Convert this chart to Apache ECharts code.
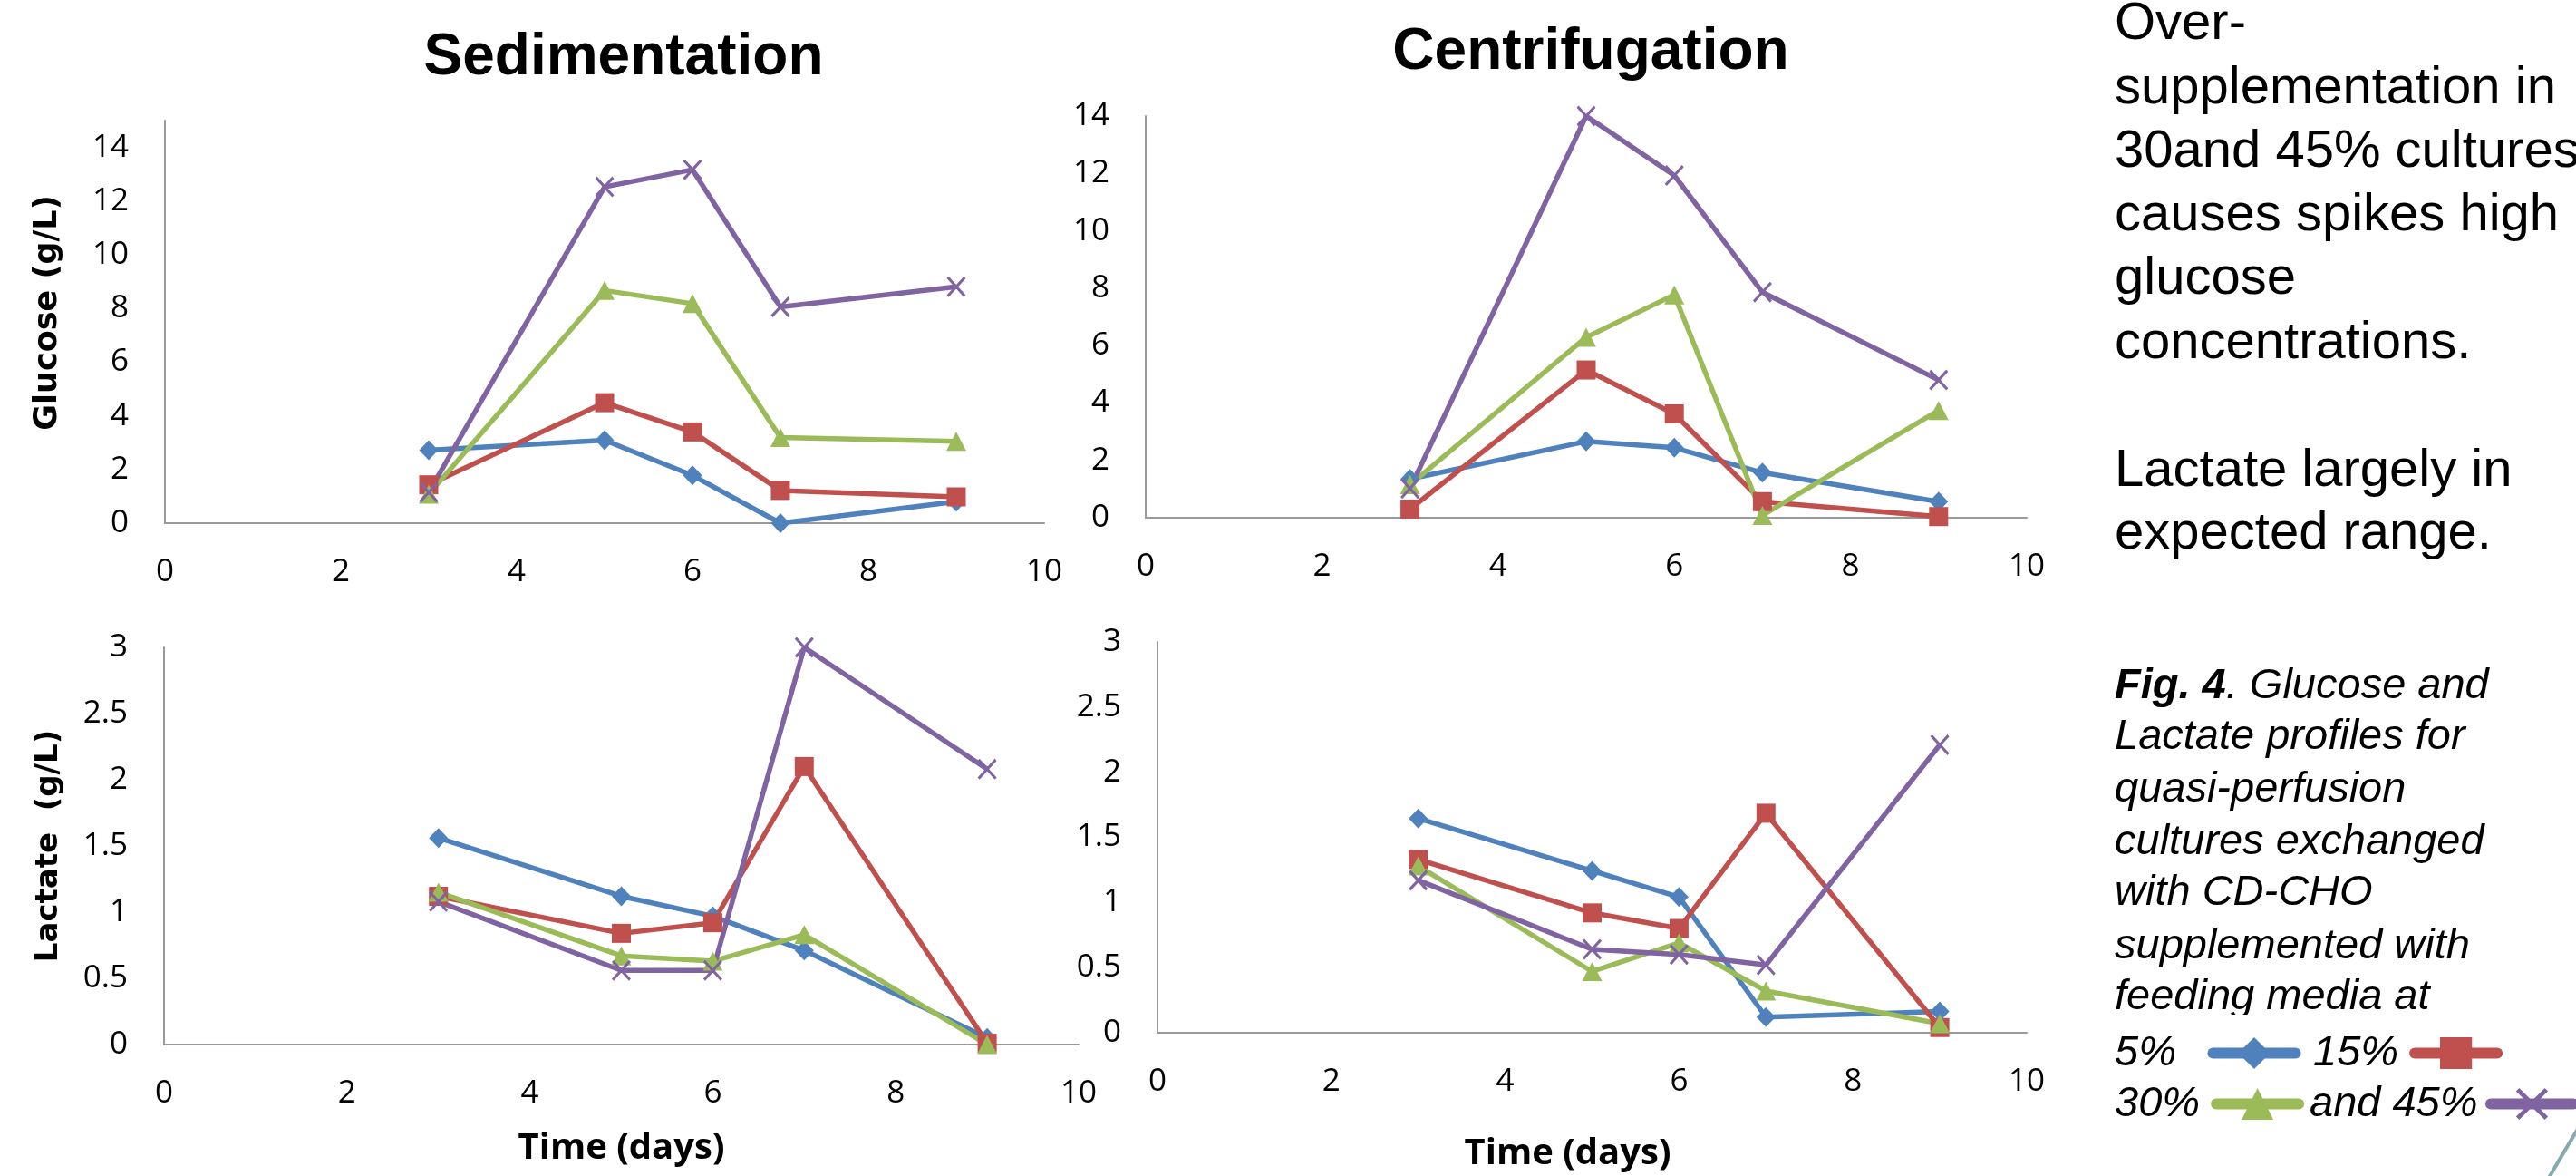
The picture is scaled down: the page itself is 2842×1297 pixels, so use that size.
<!DOCTYPE html>
<html>
<head>
<meta charset="utf-8">
<title>Glucose and Lactate profiles</title>
<script src="https://cdn.jsdelivr.net/npm/echarts/dist/echarts.min.js"></script>
<style>
  html, body { margin: 0; padding: 0; background: #fff; }
  #chart { width: 2842px; height: 1297px; }
</style>
</head>
<body>
<div id="chart"></div>
<script>
// days sampled
const days = [3, 5, 6, 7, 9];
const seriesNames = ['5%', '15%', '30%', '45%'];
const xTicks = [0, 2, 4, 6, 8, 10];

// Sedimentation - glucose (g/L)
const sedGlucose5 = [2.72, 3.09, 1.78, 0.0, 0.8];
const sedGlucose15 = [1.43, 4.49, 3.40, 1.22, 0.98];
const sedGlucose30 = [1.08, 8.67, 8.18, 3.19, 3.05];
const sedGlucose45 = [1.15, 12.53, 13.17, 8.06, 8.81];

// Centrifugation - glucose (g/L)
const cenGlucose5 = [1.35, 2.66, 2.44, 1.57, 0.56];
const cenGlucose15 = [0.30, 5.15, 3.62, 0.56, 0.04];
const cenGlucose30 = [1.15, 6.29, 7.77, 0.08, 3.74];
const cenGlucose45 = [1.02, 14.0, 11.93, 7.86, 4.80];

// Sedimentation - lactate (g/L)
const sedLactate5 = [1.56, 1.12, 0.97, 0.71, 0.05];
const sedLactate15 = [1.12, 0.84, 0.92, 2.10, 0.01];
const sedLactate30 = [1.15, 0.67, 0.63, 0.83, 0.0];
const sedLactate45 = [1.08, 0.56, 0.56, 3.0, 2.08];

// Centrifugation - lactate (g/L)
const cenLactate5 = [1.645, 1.243, 1.042, 0.12, 0.164];
const cenLactate15 = [1.33, 0.92, 0.80, 1.685, 0.04];
const cenLactate30 = [1.28, 0.47, 0.69, 0.32, 0.07];
const cenLactate45 = [1.17, 0.64, 0.60, 0.52, 2.21];

const colors = ['#4F81BD', '#C0504D', '#9BBB59', '#8064A2'];
const crossPath = 'path://M0,1L1,0L5,4L9,0L10,1L6,5L10,9L9,10L5,6L1,10L0,9L4,5Z';
const symbols = ['diamond', 'rect', 'triangle', crossPath];
const symbolSizes = [[21, 22], [21, 21], [22, 21], [21, 23]];

const panels = [
    [sedGlucose5, sedGlucose15, sedGlucose30, sedGlucose45],
    [cenGlucose5, cenGlucose15, cenGlucose30, cenGlucose45],
    [sedLactate5, sedLactate15, sedLactate30, sedLactate45],
    [cenLactate5, cenLactate15, cenLactate30, cenLactate45]
];

const tickFont = { color: '#000', fontFamily: 'Open Sans', fontSize: 35 };
const axisLineStyle = { show: true, onZero: false, lineStyle: { color: '#999', width: 2 } };

function makeXAxis(gridIndex, extra) {
    return Object.assign({
        type: 'value', gridIndex: gridIndex,
        min: xTicks[0], max: xTicks[xTicks.length - 1], interval: 2,
        axisLine: axisLineStyle,
        axisTick: { show: false },
        splitLine: { show: false },
        axisLabel: Object.assign({ margin: 37 }, tickFont)
    }, extra || {});
}

function makeYAxis(gridIndex, max, interval, extra) {
    return Object.assign({
        type: 'value', gridIndex: gridIndex,
        min: 0, max: max, interval: interval,
        axisLine: axisLineStyle,
        axisTick: { show: false },
        splitLine: { show: false },
        axisLabel: Object.assign({ margin: 40, showMaxLabel: max % interval === 0 }, tickFont)
    }, extra || {});
}

const xNameStyle = { color: '#000', fontFamily: 'Open Sans', fontWeight: 'bold', fontSize: 40 };
const yNameStyle = { color: '#000', fontFamily: 'DejaVu Sans', fontWeight: 'bold', fontSize: 35 };

const series = [];
panels.forEach((panel, g) => {
    panel.forEach((vals, k) => {
        series.push({
            type: 'line',
            name: seriesNames[k],
            xAxisIndex: g,
            yAxisIndex: g,
            data: days.map((d, i) => [d, vals[i]]),
            symbol: symbols[k],
            symbolSize: symbolSizes[k],
            lineStyle: { width: 5.5, color: colors[k] },
            itemStyle: { color: colors[k] }
        });
    });
});

// trailing no-break spaces open the gap between a label and its key
function legendItem(name, left, top, label) {
    return {
        data: [name],
        left: left, top: top,
        padding: 0,
        orient: 'horizontal',
        align: 'right',
        itemWidth: 91, itemHeight: 44,
        selectedMode: false,
        formatter: label,
        lineStyle: { width: 12, cap: 'round' },
        textStyle: { color: '#000', fontFamily: 'Liberation Sans', fontStyle: 'italic', fontSize: 47 }
    };
}

function textLine(str, x, baseline, size, style) {
    return {
        type: 'text', x: x, y: baseline - 0.35 * size, z: 10,
        style: Object.assign({
            text: str, fill: '#000', fontFamily: 'Liberation Sans', fontSize: size,
            verticalAlign: 'middle', align: 'left'
        }, style || {})
    };
}

const noteLines = [
    ['Over-', 47], ['supplementation in', 118], ['30and 45% cultures', 188],
    ['causes spikes high', 258], ['glucose', 328], ['concentrations.', 399],
    ['Lactate largely in', 540], ['expected range.', 609]
];
const captionLines = [
    ['Lactate profiles for', 829.5], ['quasi-perfusion', 887], ['cultures exchanged', 945],
    ['with CD-CHO', 1001.5], ['supplemented with', 1060.6], ['feeding media at', 1116.3]
];

const graphics = [
    { type: 'text', x: 688, y: 64, style: { text: 'Sedimentation', fill: '#000', fontFamily: 'Liberation Sans', fontWeight: 'bold', fontSize: 64, align: 'center', verticalAlign: 'middle' } },
    { type: 'text', x: 1755, y: 58, style: { text: 'Centrifugation', fill: '#000', fontFamily: 'Liberation Sans', fontWeight: 'bold', fontSize: 64, align: 'center', verticalAlign: 'middle' } }
];
noteLines.forEach(l => graphics.push(textLine(l[0], 2333, l[1], 58)));
graphics.push(textLine('{b|Fig. 4}. Glucose and', 2333, 773, 47, {
    fontStyle: 'italic',
    rich: { b: { fontWeight: 'bold', fontStyle: 'italic', fontFamily: 'Liberation Sans', fontSize: 47, fill: '#000' } }
}));
captionLines.forEach(l => graphics.push(textLine(l[0], 2333, l[1], 47, { fontStyle: 'italic' })));
// caption box clips the last line's descenders
graphics.push({ type: 'rect', z: 11, shape: { x: 2320, y: 1119, width: 300, height: 18 }, style: { fill: '#fff' } });
// slide decoration in the corner
graphics.push({ type: 'bezierCurve', z: 11, shape: { x1: 2844, y1: 1245, x2: 2812, y2: 1299, cpx1: 2830, cpy1: 1268 }, style: { stroke: '#86aaad', lineWidth: 4, fill: null } });

const option = {
    animation: false,
    backgroundColor: '#fff',
    grid: [
        { left: 182, top: 133, width: 970, height: 444 },
        { left: 1264, top: 128, width: 972, height: 443 },
        { left: 181, top: 714, width: 1009, height: 438 },
        { left: 1277, top: 708, width: 959, height: 431 }
    ],
    xAxis: [
        makeXAxis(0),
        makeXAxis(1),
        makeXAxis(2, { name: 'Time (days)', nameLocation: 'middle', nameGap: 95, nameTextStyle: xNameStyle }),
        makeXAxis(3, { name: 'Time (days)', nameLocation: 'middle', nameGap: 114, nameTextStyle: Object.assign({ padding: [0, 54, 0, 0] }, xNameStyle) })
    ],
    yAxis: [
        makeYAxis(0, 15, 2, { name: 'Glucose (g/L)', nameLocation: 'middle', nameRotate: 90, nameGap: 112, nameTextStyle: Object.assign({ padding: [0, 0, 0, 20] }, yNameStyle) }),
        makeYAxis(1, 14, 2),
        makeYAxis(2, 3, 0.5, { name: 'Lactate  (g/L)', nameLocation: 'middle', nameRotate: 90, nameGap: 110, nameTextStyle: Object.assign({}, yNameStyle, { fontSize: 34 }) }),
        makeYAxis(3, 3, 0.5)
    ],
    legend: [
        legendItem('5%', 2333, 1138, '5%\u00a0\u00a0\u2009'),
        legendItem('15%', 2552, 1138, '15%\u00a0'),
        legendItem('30%', 2333, 1194, '30%\u00a0'),
        legendItem('45%', 2548, 1194, 'and 45%\u2009')
    ],
    graphic: graphics,
    series: series
};

const chart = echarts.init(document.getElementById('chart'));
chart.setOption(option);
</script>
</body>
</html>
